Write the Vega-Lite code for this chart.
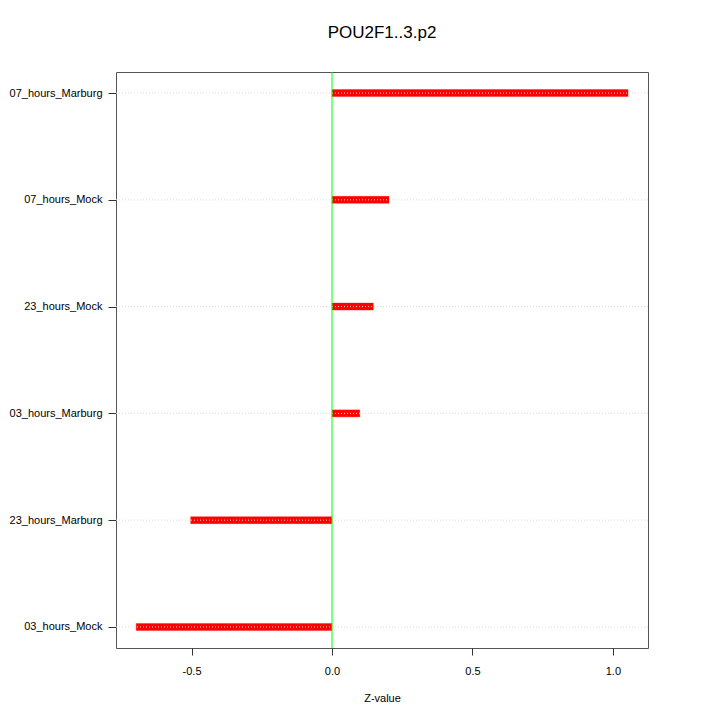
{
  "$schema": "https://vega.github.io/schema/vega-lite/v6.json",
  "autosize": "none",
  "width": 532,
  "height": 576,
  "padding": {"left": 116, "top": 72, "right": 72, "bottom": 72},
  "background": "white",
  "config": {
    "font": "Liberation Sans",
    "view": {"stroke": "#555555", "strokeWidth": 1}
  },
  "title": {"text": "POU2F1..3.p2", "fontSize": 17, "fontWeight": "normal", "font": "Liberation Sans", "color": "#000000", "offset": 30, "anchor": "middle"},
  "data": {"values": [
    {"condition": "07_hours_Marburg", "z": 1.054},
    {"condition": "07_hours_Mock", "z": 0.203},
    {"condition": "23_hours_Mock", "z": 0.147},
    {"condition": "03_hours_Marburg", "z": 0.099},
    {"condition": "23_hours_Marburg", "z": -0.503},
    {"condition": "03_hours_Mock", "z": -0.697}
  ]},
  "encoding": {
    "y": {
      "field": "condition", "type": "nominal",
      "sort": ["07_hours_Marburg", "07_hours_Mock", "23_hours_Mock", "03_hours_Marburg", "23_hours_Marburg", "03_hours_Mock"],
      "scale": {"type": "point", "padding": 0.197},
      "axis": {"title": null, "domain": false, "grid": false, "tickSize": 8, "tickColor": "#333333", "labelPadding": 6, "labelFontSize": 11, "labelColor": "#000000", "labelFont": "Liberation Sans"}
    }
  },
  "layer": [
    {
      "mark": {"type": "bar", "height": 7, "color": "#ff0000", "stroke": "#ff0000", "strokeOpacity": 0.35, "strokeWidth": 1},
      "encoding": {
        "x": {
          "field": "z", "type": "quantitative",
          "scale": {"domain": [-0.769, 1.125], "nice": false, "zero": false},
          "axis": {"title": "Z-value", "titleFontSize": 11, "titleFontWeight": "normal", "titleColor": "#000000", "titlePadding": 16, "values": [-0.5, 0, 0.5, 1.0], "labelExpr": "datum.value < 0 ? '-' + format(-datum.value, '.1f') : format(datum.value, '.1f')", "domain": false, "grid": false, "tickSize": 7, "tickColor": "#333333", "labelPadding": 10, "labelFontSize": 11, "labelColor": "#000000", "labelFont": "Liberation Sans"}
        },
        "x2": {"datum": 0}
      }
    },
    {
      "mark": {"type": "rule", "color": "#d9d9d9", "strokeDash": [1, 2], "strokeWidth": 1},
      "encoding": {
        "x": {"datum": -0.769},
        "x2": {"datum": 1.125}
      }
    },
    {
      "data": {"values": [{"zero": 0}]},
      "mark": {"type": "rule", "color": "#00ff00", "strokeWidth": 1},
      "encoding": {
        "x": {"field": "zero", "type": "quantitative"},
        "y": null
      }
    }
  ]
}
